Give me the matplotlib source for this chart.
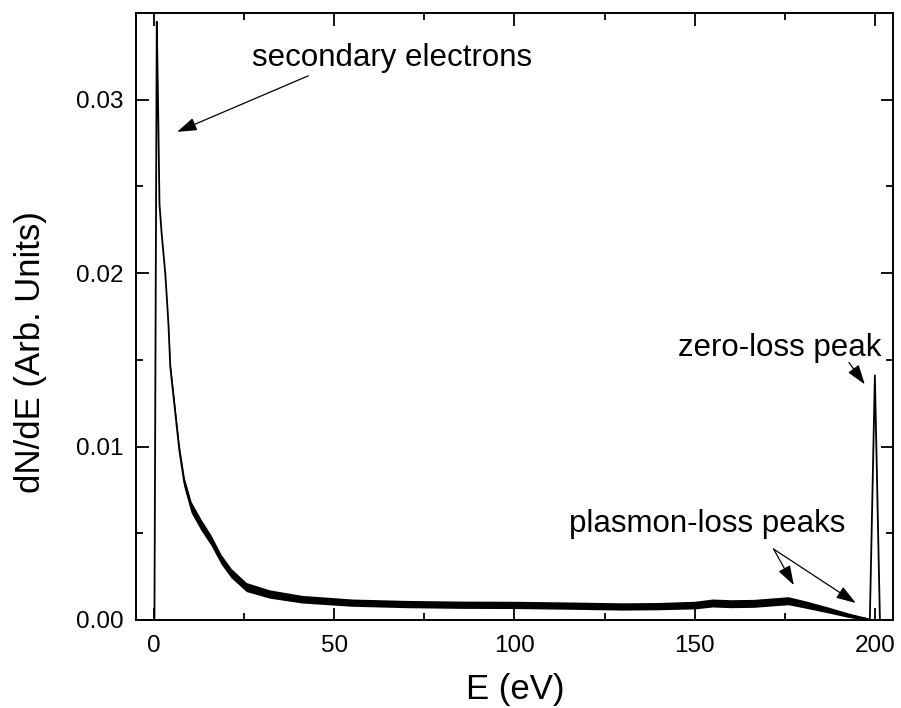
"""Electron energy distribution dN/dE with annotated loss features."""

import matplotlib

matplotlib.use("Agg")
import matplotlib.pyplot as plt
import numpy as np

plt.rcParams["font.family"] = ["Liberation Sans", "DejaVu Sans"]

# Spectrum: energy (eV) and dN/dE (arb. units)
energy = [
    0.0, 0.1, 0.75, 1.1, 1.5, 2.1, 3.1, 3.6, 4.0, 4.5, 5.8, 7.0, 8.4,
    10.3, 13.0, 15.8, 18.6, 21.4, 25.6, 32.0, 41.0, 55.0, 70.0, 85.0,
    100.0, 115.0, 130.0, 140.0, 150.0, 155.0, 160.0, 166.5, 172.0, 176.0,
    181.0, 187.0, 192.4, 196.0, 198.0, 198.6, 200.0, 201.4, 202.0,
]
dnde = [
    0.0, 0.0, 0.0345, 0.0299, 0.0240, 0.0223, 0.0200, 0.0184, 0.0170,
    0.0146, 0.0121, 0.0098, 0.0079, 0.0065, 0.0055, 0.0046, 0.0035,
    0.0027, 0.0019, 0.0015, 0.0012, 0.0010, 0.00092, 0.00088, 0.00087,
    0.00083, 0.00078, 0.00080, 0.00086, 0.00098, 0.00094, 0.00096,
    0.00105, 0.00111, 0.00088, 0.00058, 0.00029, 0.00013, 0.00005, 0.0,
    0.0141, 0.0, 0.0,
]
# Half-width of the counting-noise band around the spectrum
noise = [
    0.0, 0.0, 0.0, 0.0, 0.0, 0.0, 0.0, 0.0, 0.00008, 0.00020, 0.00026,
    0.00028, 0.00030, 0.00032, 0.00032, 0.00030, 0.00028, 0.00027,
    0.00026, 0.00024, 0.00022, 0.00021, 0.00021, 0.00021, 0.00021,
    0.00021, 0.00021, 0.00021, 0.00022, 0.00023, 0.00023, 0.00023,
    0.00023, 0.00023, 0.00021, 0.00017, 0.00013, 0.00010, 0.00008, 0.0,
    0.0, 0.0, 0.0,
]

x_ticks = [0, 50, 100, 150, 200]
y_ticks = [0.00, 0.01, 0.02, 0.03]


def main():
    e = np.array(energy)
    y = np.array(dnde)
    n = np.array(noise)

    fig = plt.figure(figsize=(9.01, 7.08), dpi=100)
    ax = fig.add_axes([0.151, 0.1243, 0.840, 0.8573])

    ax.fill_between(e, y - n, y + n, color="black", linewidth=0)
    ax.plot(e, y, color="black", linewidth=1.3)

    ax.set_xlim(-5, 205)
    ax.set_ylim(0, 0.035)
    ax.set_xticks(x_ticks)
    ax.set_yticks(y_ticks)
    ax.set_yticklabels([f"{t:.2f}" for t in y_ticks])
    ax.set_xticks(np.arange(25, 205, 50), minor=True)
    ax.set_yticks(np.arange(0.005, 0.035, 0.01), minor=True)
    ax.tick_params(which="both", direction="in", top=True, right=True,
                   labelsize=17.5, width=1.3)
    ax.tick_params(axis="x", which="major", pad=11)
    ax.tick_params(axis="y", which="major", pad=9)
    ax.tick_params(which="major", length=9)
    ax.tick_params(which="minor", length=5)
    for spine in ax.spines.values():
        spine.set_linewidth(1.4)

    fig.text(515 / 901, 1 - 690 / 708, "E (eV)", fontsize=25,
             ha="center", va="center")
    fig.text(31 / 901, 1 - 352 / 708, "dN/dE (Arb. Units)", fontsize=25,
             rotation=90, ha="center", va="center")

    # Annotations
    arrow = dict(arrowstyle="-|>,head_length=0.6,head_width=0.2",
                 color="black", lw=0.9, mutation_scale=20,
                 shrinkA=0, shrinkB=0)
    ax.text(66.1, 0.0324, "secondary electrons", fontsize=22.5,
            ha="center", va="center")
    ax.annotate("", xy=(6.4, 0.02815), xytext=(42.8, 0.03138),
                arrowprops=arrow)

    ax.text(173.6, 0.0157, "zero-loss peak", fontsize=22.5,
            ha="center", va="center")
    ax.annotate("", xy=(197.2, 0.01359), xytext=(192.8, 0.01485),
                arrowprops=arrow)

    ax.text(153.6, 0.00553, "plasmon-loss peaks", fontsize=22.5,
            ha="center", va="center")
    ax.annotate("", xy=(177.5, 0.00201), xytext=(171.9, 0.00409),
                arrowprops=arrow)
    ax.annotate("", xy=(194.7, 0.00098), xytext=(171.9, 0.00409),
                arrowprops=arrow)

    fig.savefig("out.png", dpi=100)


if __name__ == "__main__":
    main()
